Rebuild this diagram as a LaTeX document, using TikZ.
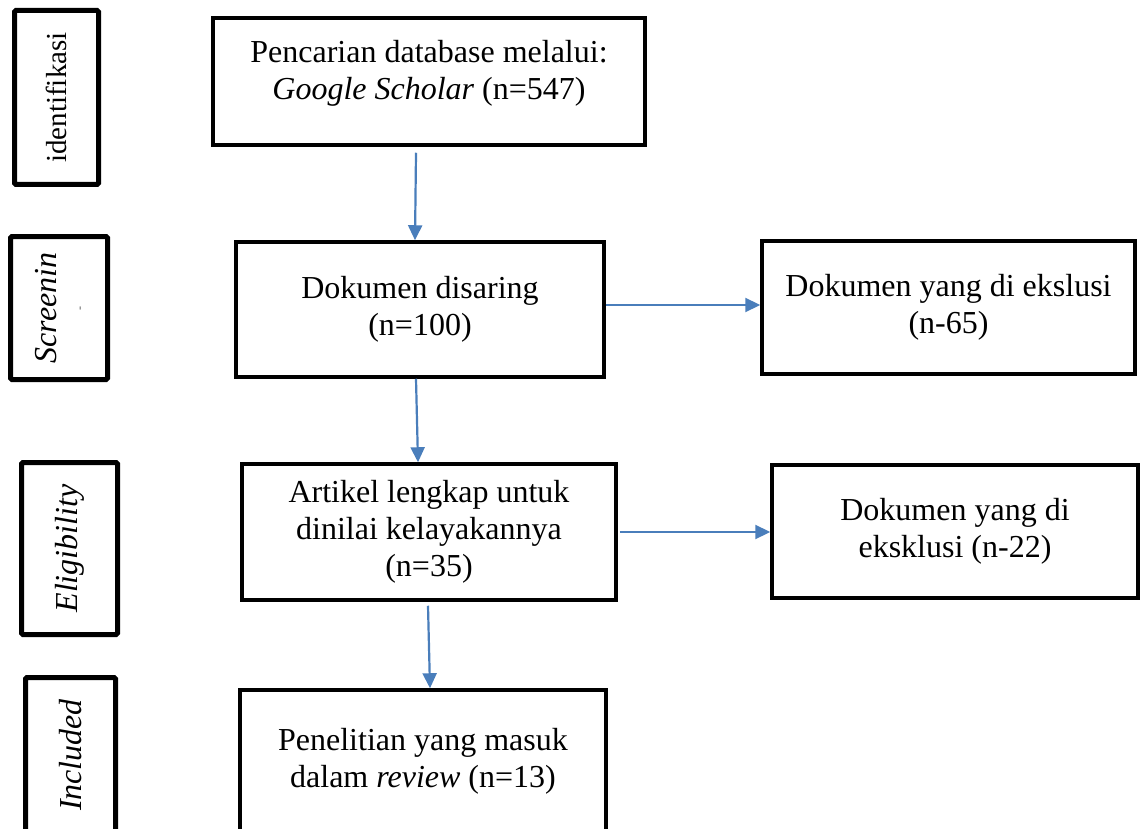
\documentclass[tikz,border=0pt]{standalone}
\usepackage{fontspec}
\setmainfont{Liberation Serif}
\usetikzlibrary{arrows.meta,positioning}

\definecolor{arrowblue}{RGB}{74,126,187}
\newcommand{\boxfont}{\fontsize{32}{37}\selectfont}
\newcommand{\sidefont}{\fontsize{32}{36}\selectfont}

\begin{document}
\begin{tikzpicture}[x=1pt, y=-1pt,
  box/.style={draw, line width=3.5pt, align=center, inner sep=0pt, font=\boxfont},
  side/.style={draw, line width=5pt, rounded corners=1.5pt, rotate=90, inner sep=0pt, align=center, font=\sidefont},
  arr/.style={draw=arrowblue, line width=2.2pt, -{Triangle[length=15pt,width=14pt]}}]

% canvas
\useasboundingbox (0,0) rectangle (1140,829);
\clip (0,0) rectangle (1140,829);

% stage labels on the left
\node[side, minimum width=174pt, minimum height=84pt, font=\fontsize{29}{33}\selectfont] (identifikasi) at (56.5,97.5) {identifikasi};
\node[side, minimum width=143pt, minimum height=97pt] (screening) at (59,308)
  {\itshape Screenin\\[-9pt]{\fontsize{12}{12}\selectfont\color{gray!70!black}-}};
\node[side, minimum width=172pt, minimum height=96pt] (eligibility) at (69.5,548.5) {\itshape Eligibility};
\node[side, minimum width=155pt, minimum height=90pt] (included) at (70.5,755) {\itshape Included};

% main flow
\node[box, minimum width=432pt, minimum height=127pt] (search) at (429,81.5)
  {Pencarian database melalui:\\\textit{Google Scholar} (n=547)\\[-14pt]};
\node[box, minimum width=368pt, minimum height=135pt] (screened) at (420,309.5)
  {Dokumen disaring\\(n=100)};
\node[box, minimum width=374pt, minimum height=136pt] (fulltext) at (429,532)
  {Artikel lengkap untuk\\dinilai kelayakannya\\(n=35)};
\node[box, minimum width=366pt, minimum height=143pt] (review) at (423,761.5)
  {Penelitian yang masuk\\dalam \textit{review} (n=13)};

% excluded
\node[box, minimum width=373pt, minimum height=133pt] (excl1) at (948.5,307.5)
  {Dokumen yang di ekslusi\\(n-65)};
\node[box, minimum width=366pt, minimum height=133pt] (excl2) at (955,531.5)
  {Dokumen yang di\\eksklusi (n-22)};

% connectors
\draw[arr] ([xshift=-13pt,yshift=-6pt]search.south) -- ([xshift=-5pt]screened.north);
\draw[arr] ([xshift=-4pt]screened.south) -- ([xshift=-11pt]fulltext.north);
\draw[arr] ([xshift=-1pt,yshift=-4pt]fulltext.south) -- ([xshift=7pt]review.north);
\draw[arr] ([yshift=4.5pt]screened.east) -- ([yshift=2.5pt]excl1.west);
\draw[arr] ([xshift=2pt]fulltext.east) -- ([yshift=-0.5pt]excl2.west);
\end{tikzpicture}
\end{document}
